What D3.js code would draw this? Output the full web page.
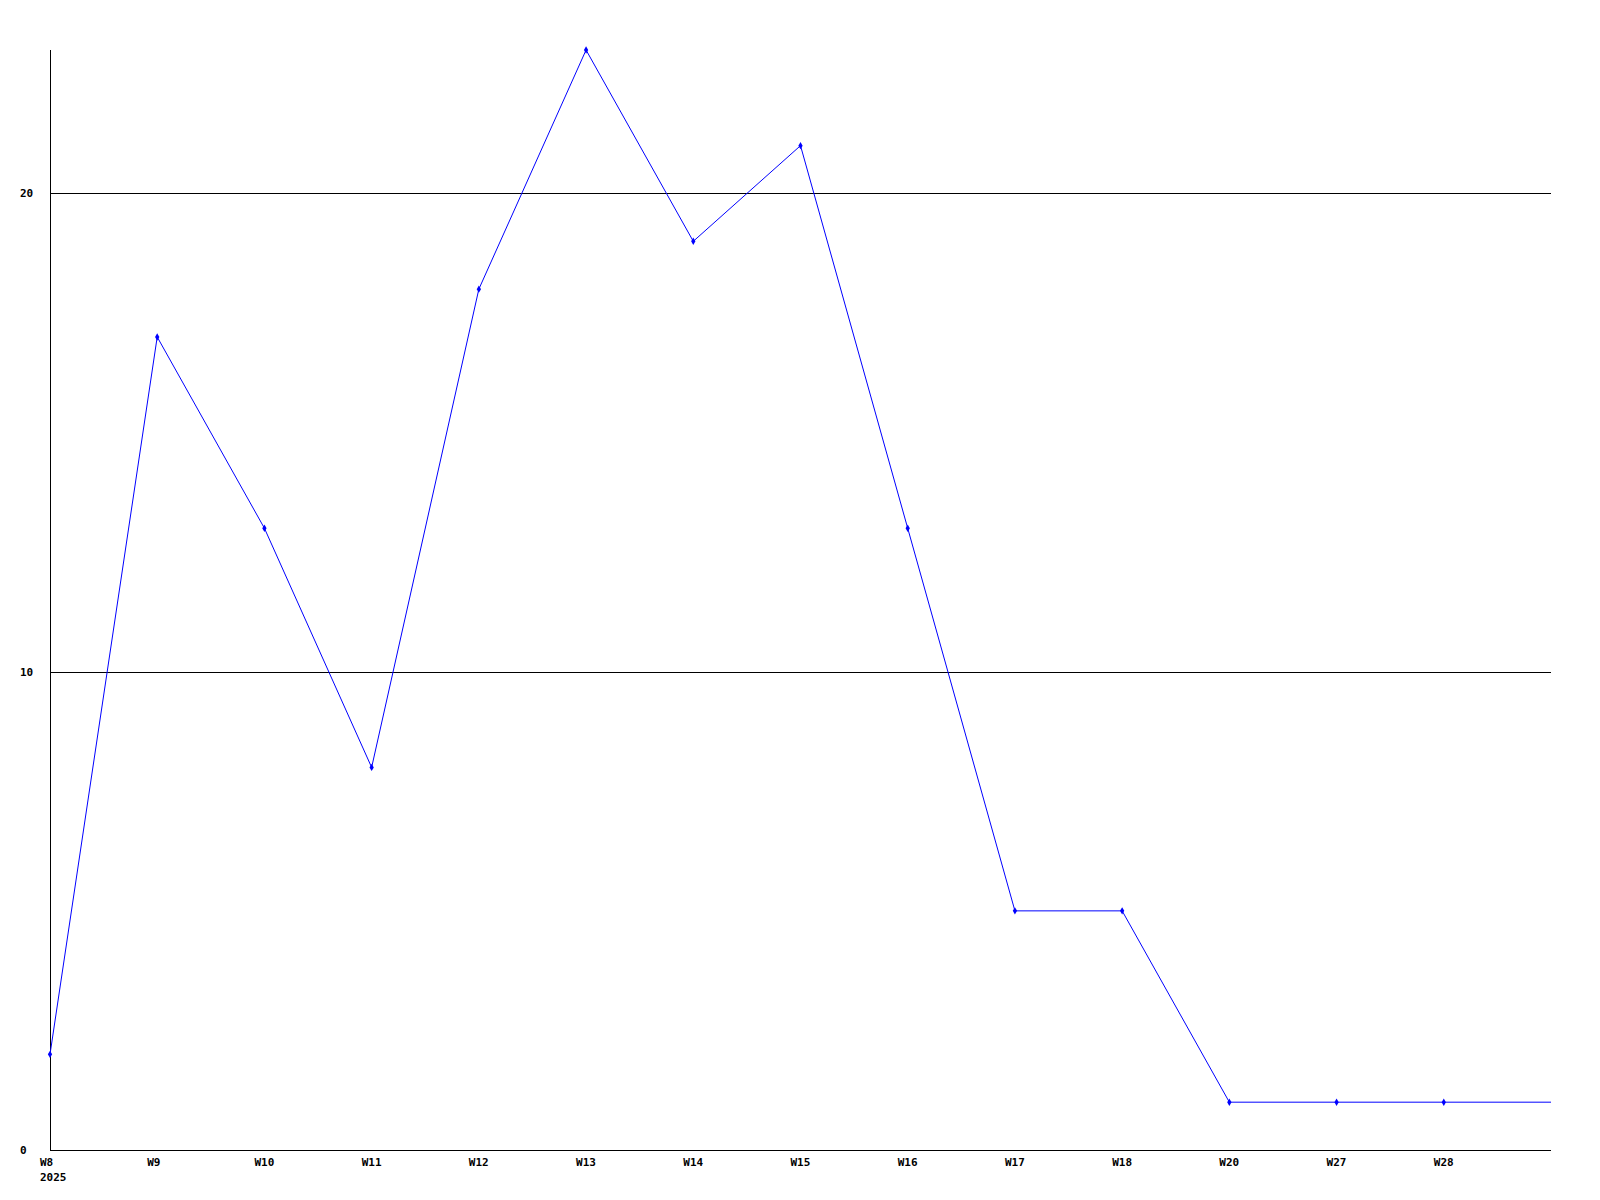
<!DOCTYPE html>
<html><head><meta charset="utf-8">
<script src="https://cdn.jsdelivr.net/npm/d3@7"></script>
<style>body{margin:0;background:#fff}svg{display:block}text{font-family:"DejaVu Sans Mono",monospace;font-weight:bold;font-size:11px;fill:#000}</style>
</head><body>
<script>
const categories = ["W8","W9","W10","W11","W12","W13","W14","W15","W16","W17","W18","W20","W27","W28"];
const values = [2,17,13,8,18,23,19,21,13,5,5,1,1,1];
const trailingValue = 1; // line continues flat to the right edge
const yTicks = [0,10,20];
const yearLabel = "2025";

const W=1600,H=1200;
const svg=d3.select("body").append("svg").attr("width",W).attr("height",H);
const x=d3.scaleLinear().domain([0,categories.length]).range([50,1551]);
const y=d3.scaleLinear().domain([0,23]).range([1150,50]);

// gridlines
svg.append("g").selectAll("line").data(yTicks.filter(d=>d>0)).join("line")
  .attr("x1",50).attr("x2",1551).attr("y1",d=>Math.round(y(d))+0.5).attr("y2",d=>Math.round(y(d))+0.5)
  .attr("stroke","#000").attr("stroke-width",1).attr("shape-rendering","crispEdges");
// axes
svg.append("line").attr("x1",50.5).attr("x2",50.5).attr("y1",50).attr("y2",1150.5).attr("stroke","#000").attr("shape-rendering","crispEdges");
svg.append("line").attr("x1",50).attr("x2",1551).attr("y1",1150.5).attr("y2",1150.5).attr("stroke","#000").attr("shape-rendering","crispEdges");

// y labels
svg.append("g").selectAll("text").data(yTicks).join("text")
  .attr("x",20).attr("y",d=>y(d)+4).text(d=>d);
// x labels
svg.append("g").selectAll("text").data(categories).join("text")
  .attr("x",(d,i)=>x(i)-10).attr("y",1166).text(d=>d);
svg.append("text").attr("x",x(0)-10).attr("y",1181).text(yearLabel);

// line
const pts=values.map((v,i)=>[x(i),y(v)]);
pts.push([x(categories.length),y(trailingValue)]);
svg.append("path").attr("d",d3.line()(pts)).attr("fill","none").attr("stroke","#0000ff").attr("stroke-width",1);
// markers
svg.append("g").selectAll("path").data(values).join("path")
  .attr("d",d3.symbol(d3.symbolDiamond,16)())
  .attr("transform",(d,i)=>`translate(${x(i)},${y(d)})`).attr("fill","#0000ff");
</script>
</body></html>
